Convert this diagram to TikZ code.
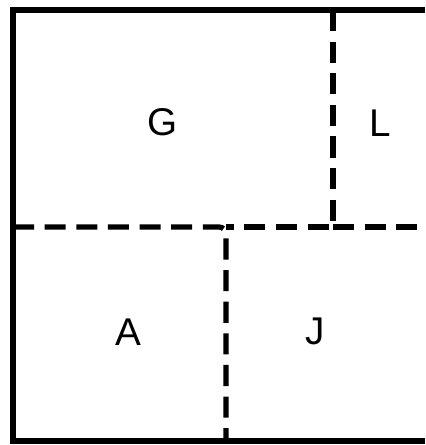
\documentclass[tikz,border=0pt]{standalone}
\usepackage{fontspec}
\setmainfont{Liberation Sans}

\begin{document}
\begin{tikzpicture}[x=0.02cm,y=-0.02cm,
  wall/.style={line width=3.2pt},
  part/.style={line width=3pt,dash pattern=on 12pt off 6pt},
  room/.style={font=\fontsize{22}{26}\selectfont}]
  \useasboundingbox (0,0) rectangle (425,445);
  \coordinate (nw) at (13,10);
  \coordinate (ne) at (425,10);
  \coordinate (sw) at (13,441);
  \coordinate (se) at (425,441);
  \coordinate (gltop) at (333,10);
  \coordinate (glmid) at (333,227);
  \coordinate (midw) at (13,227);
  \coordinate (mide) at (425,227);
  \coordinate (ajmid) at (226,227);
  \coordinate (ajbot) at (226,441);
  \draw[wall] (ne) -- (nw) -- (sw) -- (se);
  \draw[part,rounded corners=4pt] (midw) -- (ajmid) -- (ajbot);
  \draw[part] (gltop) -- (glmid) -- (ajmid);
  \draw[part] (glmid) -- (mide);
  \node[room] (g) at (163,122) {G};
  \node[room] (l) at (380,123) {L};
  \node[room] (a) at (128,332) {A};
  \node[room] (j) at (315,331) {J};
\end{tikzpicture}
\end{document}
